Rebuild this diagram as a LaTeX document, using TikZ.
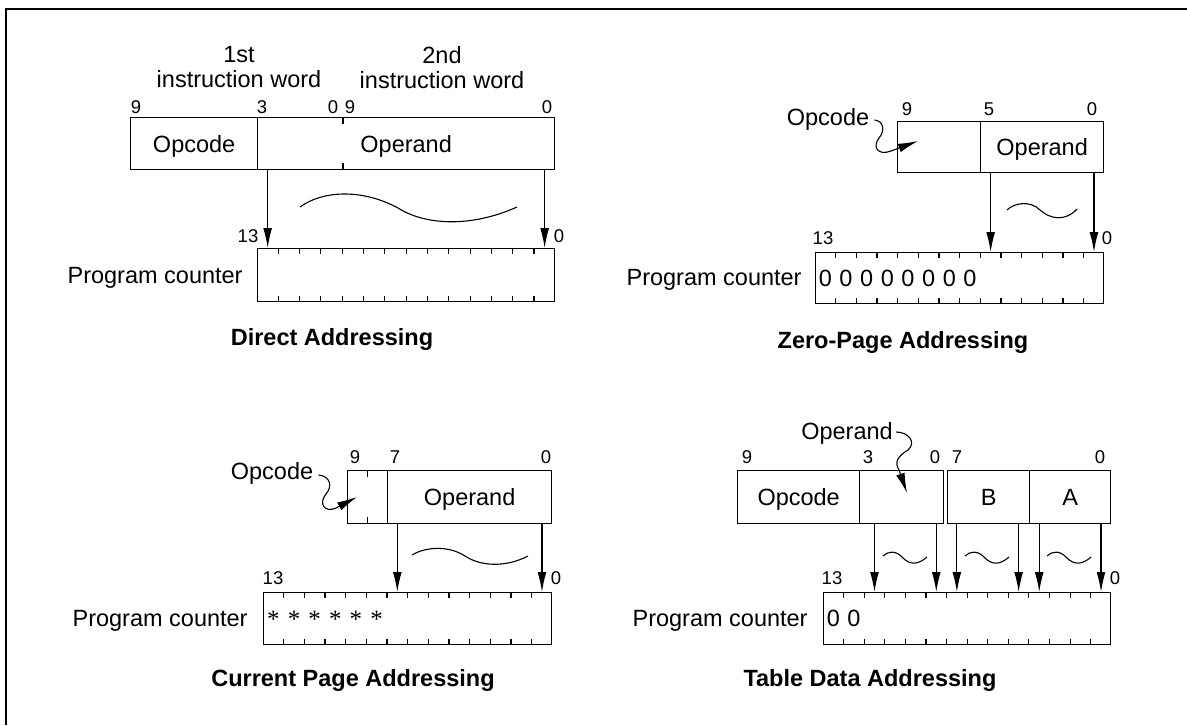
\documentclass[tikz,border=0pt]{standalone}
\usepackage{fontspec}
\setmainfont{Liberation Sans}
\newfontfamily\starfont{Liberation Serif}
\usetikzlibrary{arrows.meta,calc}

\begin{document}
\begin{tikzpicture}[x=0.5pt,y=-0.5pt,line join=miter,
    font=\fontsize{11.75}{12.5}\selectfont,
    >={Latex[length=10pt,width=4.4pt]}]
  \tikzstyle{field}=[draw,line width=0.65pt,anchor=north west,inner sep=0pt,text height=8.4pt,text depth=0pt]
  \tikzstyle{pcreg}=[field]
  \tikzstyle{txt}=[inner sep=0pt,text height=8.4pt,text depth=0pt]
  \tikzstyle{bitno}=[inner sep=0pt,font=\fontsize{9.25}{11}\selectfont,text height=6.6pt,text depth=0pt]
  \tikzstyle{title}=[txt,font=\fontsize{11.75}{12.5}\selectfont\bfseries]
  \tikzstyle{wave}=[line width=0.55pt]
  \tikzstyle{ptr}=[->,line width=0.55pt]
  \tikzstyle{tickline}=[line width=0.55pt]
  \useasboundingbox (0,0) rectangle (1187,725);
  \draw[line width=1pt] (6,725) -- (6,9) -- (1187,9);

  % direct addressing
  \node[inner sep=0pt,align=center] (dir_w1) at (239,67.5) {1st\\instruction word};
  \node[inner sep=0pt,align=center] (dir_w2) at (442,67.5) {2nd\\instruction word};
  \node[field,minimum width=63.5pt,minimum height=26pt] (dir_opc) at (130,117) {Opcode};
  \node[field,minimum width=148.5pt,minimum height=26pt] (dir_opr) at (257,117) {Operand};
  \draw[tickline] ([xshift=43pt]dir_opr.north west) -- ++(0,7) ([xshift=43pt]dir_opr.south west) -- ++(0,-7);
  \foreach \x/\t [count=\k] in {136/9,262/3,333/0,350/9,547/0}
    \node[bitno] (dir_bit\k) at (\x,107) {\t};
  \node[pcreg,minimum width=148.5pt,minimum height=26.5pt] (dir_pc) at (257,248) {};
  \node[txt,anchor=east] (dir_pclbl) at (243,275) {Program counter};
  \node[bitno] (dir_hi) at (248,236) {13};
  \node[bitno] (dir_lo) at (559,236) {0};
  \node[title] (dir_title) at (332,337) {Direct Addressing};

  % zero-page addressing
  \node[txt] (zp_lbl) at (828,117) {Opcode};
  \node[field,minimum width=41.5pt,minimum height=25.5pt] (zp_opc) at (897,121) {};
  \node[field,minimum width=61.5pt,minimum height=25.5pt] (zp_opr) at (980,121) {Operand};
  \coordinate (zp_tip) at (918,141);
  \foreach \x/\t [count=\k] in {907/9,989/5,1092/0}
    \node[bitno] (zp_bit\k) at (\x,109) {\t};
  \node[pcreg,minimum width=144pt,minimum height=25.5pt] (zp_pc) at (815,252) {};
  \node[txt,anchor=east] (zp_pclbl) at (802,277.5) {Program counter};
  \node[bitno] (zp_hi) at (823,238) {13};
  \node[bitno] (zp_lo) at (1107,238) {0};
  \node[title] (zp_title) at (903,340) {Zero-Page Addressing};

  % current page addressing
  \node[txt] (cur_lbl) at (272,471) {Opcode};
  \node[field,minimum width=20pt,minimum height=26.5pt] (cur_opc) at (347,470) {};
  \node[field,minimum width=82pt,minimum height=26.5pt] (cur_opr) at (387,470) {Operand};
  \draw[tickline] (cur_opc.north) -- ++(0,7) (cur_opc.south) -- ++(0,-7);
  \coordinate (cur_tip) at (357,497);
  \foreach \x/\t [count=\k] in {355/9,395/7,546/0}
    \node[bitno] (cur_bit\k) at (\x,457) {\t};
  \node[pcreg,minimum width=144pt,minimum height=26pt] (cur_pc) at (263,592) {};
  \node[txt,anchor=east] (cur_pclbl) at (248,618) {Program counter};
  \node[bitno] (cur_hi) at (273,578) {13};
  \node[bitno] (cur_lo) at (556,578) {0};
  \node[title] (cur_title) at (353,678) {Current Page Addressing};

  % table data addressing
  \node[txt] (tab_lbl) at (847,431) {Operand};
  \node[field,minimum width=61pt,minimum height=26.5pt] (tab_opc) at (737,470) {Opcode};
  \node[field,minimum width=42pt,minimum height=26.5pt] (tab_opr) at (859,470) {};
  \node[field,minimum width=41pt,minimum height=26.5pt] (tab_b) at (947,470) {B};
  \node[field,minimum width=40.5pt,minimum height=26.5pt] (tab_a) at (1029,470) {A};
  \coordinate (tab_tip) at (907,493);
  \foreach \x/\t [count=\k] in {747/9,868/3,935/0,957/7,1100/0}
    \node[bitno] (tab_bit\k) at (\x,457) {\t};
  \node[pcreg,minimum width=143.5pt,minimum height=26pt] (tab_pc) at (823,592) {};
  \node[txt,anchor=east] (tab_pclbl) at (808,618) {Program counter};
  \node[bitno] (tab_hi) at (832,578) {13};
  \node[bitno] (tab_lo) at (1115,578) {0};
  \node[title] (tab_title) at (870,678) {Table Data Addressing};

  % program counter cells
  \foreach \p in {dir,zp,cur,tab} {
    \foreach \i in {1,...,13} {
      \draw[tickline] ($(\p_pc.north west)!\i/14!(\p_pc.north east)$) -- ++(0,6);
      \draw[tickline] ($(\p_pc.south west)!\i/14!(\p_pc.south east)$) -- ++(0,-6);
    }
    \foreach \b in {0,...,13}
      \coordinate (\p_pc\b) at ($(\p_pc.north west)!13.5/14-\b/14!(\p_pc.north east)$);
  }
  \foreach \b in {13,...,6}
    \node[txt,anchor=base] (zp_z\b) at ([yshift=-17pt]zp_pc\b) {0};
  \foreach \b in {13,12}
    \node[txt,anchor=base] (tab_z\b) at ([yshift=-17.25pt]tab_pc\b) {0};
  \foreach \b in {13,...,8}
    \node[inner sep=0pt,anchor=base,font=\fontsize{12.5}{14}\starfont] (cur_s\b) at ([yshift=-17.75pt]cur_pc\b) {*};

  % bit transfers
  \draw[ptr] (dir_opr.south -| dir_pc13) -- (dir_pc13);
  \draw[ptr] (dir_opr.south -| dir_pc0) -- (dir_pc0);
  \draw[ptr] (zp_opr.south -| zp_pc5) -- (zp_pc5);
  \draw[ptr] (zp_opr.south -| zp_pc0) -- (zp_pc0);
  \draw[ptr] (cur_opr.south -| cur_pc7) -- (cur_pc7);
  \draw[ptr] (cur_opr.south -| cur_pc0) -- (cur_pc0);
  \draw[ptr] (tab_opr.south -| tab_pc11) -- (tab_pc11);
  \draw[ptr] (tab_opr.south -| tab_pc8) -- (tab_pc8);
  \draw[ptr] (tab_b.south -| tab_pc7) -- (tab_pc7);
  \draw[ptr] (tab_b.south -| tab_pc4) -- (tab_pc4);
  \draw[ptr] (tab_a.south -| tab_pc3) -- (tab_pc3);
  \draw[ptr] (tab_a.south -| tab_pc0) -- (tab_pc0);

  % pointers from the field names
  \draw[ptr] ([shift={(5,3)}]zp_lbl.east) .. controls (884,121) and (885,131) .. (879,138) .. controls (872,147) and (878,156) .. (891,151) -- (zp_tip);
  \draw[ptr] ([shift={(5,4)}]cur_lbl.east) .. controls (330,476) and (333,486) .. (326,494) .. controls (318,504) and (325,513) .. (336,508) -- (cur_tip);
  \draw[ptr] ([shift={(3,1)}]tab_lbl.east) .. controls (908,432) and (917,442) .. (908,450) .. controls (898,456) and (894,462) .. (899,470) -- (tab_tip);

  % waves
  \draw[wave] (300,207) .. controls (325,189) and (365,190) .. (398,208) .. controls (425,225) and (470,228) .. (517,207);
  \draw[wave] (1007,210) .. controls (1014,203) and (1030,200) .. (1040,210) .. controls (1050,219) and (1065,222) .. (1077,209);
  \draw[wave] (412,555) .. controls (425,547) and (448,545) .. (465,556) .. controls (480,566) and (505,568) .. (528,556);
  \foreach \dx in {0,82,164}
    \draw[wave,shift={(\dx,0)}] (883,556) .. controls (888,551) and (896,550) .. (903,558) .. controls (910,565) and (918,565) .. (927,557);
\end{tikzpicture}
\end{document}
